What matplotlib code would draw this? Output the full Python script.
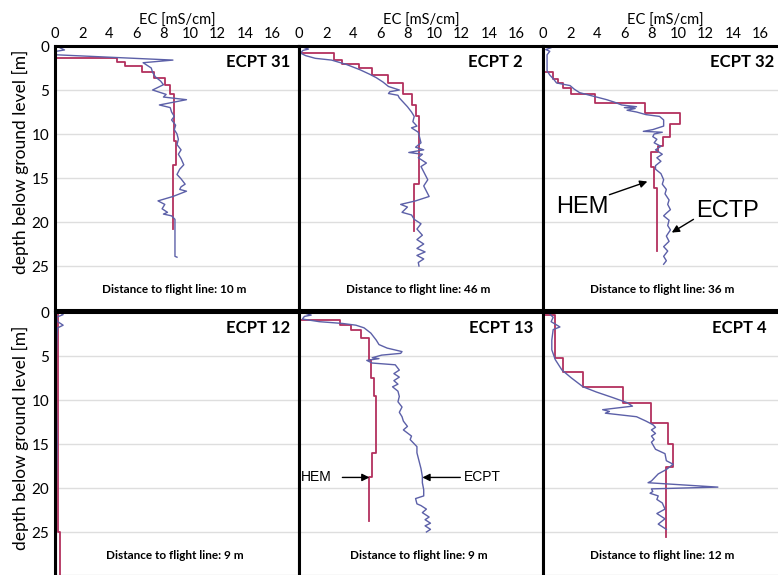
import matplotlib
matplotlib.use('Agg')
import matplotlib.pyplot as plt
import numpy as np

plt.rcParams['font.family'] = ['Lato', 'DejaVu Sans']

# ---- data (EC in mS/cm, depth in m) ----
# HEM layer models: layer tops, EC per layer, bottom of last layer
hem31_top = [0, 1.4, 1.8, 2.3, 2.9, 3.6, 4.4, 5.5, 10.8, 13.5]
hem31_ec = [0.1, 4.6, 5.2, 6.4, 7.3, 8.1, 8.5, 8.8, 8.9, 8.7]
hem31_bot = 20.8

hem2_top = [0, 0.8, 1.6, 2.0, 2.5, 3.3, 4.2, 5.5, 6.7, 8.0, 15.7]
hem2_ec = [0.1, 2.6, 3.2, 4.4, 5.4, 6.6, 7.7, 8.3, 8.6, 8.85, 8.5]
hem2_bot = 21.0

hem32_top = [0, 2.9, 3.8, 4.2, 4.8, 5.5, 6.5, 7.6, 8.9, 10.3, 11.4, 12.1, 13.8, 16.1]
hem32_ec = [0.1, 0.75, 1.1, 1.5, 2.1, 3.8, 7.5, 10.1, 9.4, 8.85, 8.5, 8.0, 8.2, 8.4]
hem32_bot = 23.3

hem12_top = [0, 25.0]
hem12_ec = [0.2, 0.35]
hem12_bot = 31

hem13_top = [0, 0.9, 1.5, 2.0, 2.9, 5.4, 7.5, 9.6, 16.0, 18.7]
hem13_ec = [0.1, 3.0, 3.8, 4.6, 5.2, 5.3, 5.5, 5.7, 5.4, 5.2]
hem13_bot = 23.8

hem4_top = [0, 0.35, 5.2, 6.8, 8.5, 10.3, 12.6, 15.0, 17.6]
hem4_ec = [0.1, 0.9, 1.5, 2.95, 5.9, 8.0, 9.2, 9.6, 9.1]
hem4_bot = 25.6

# ECPT soundings (depth, EC)
ecpt31_d = [0, 0.45, 0.6, 1.0, 1.6, 1.9, 2.5, 3.0, 3.5, 4.0, 4.4, 5.0, 5.5, 5.8, 6.1, 6.7, 7.0,
            7.5, 8.0, 8.4, 9.0, 9.5, 10.0, 10.6, 11.2, 11.8, 12.3, 12.8, 13.5, 14.0, 14.6, 15.1,
            15.7, 16.0, 16.3, 16.5, 17.1, 17.6, 18.0, 18.5, 18.9, 19.1, 19.3, 19.7, 23.9, 24.0]
ecpt31_ec = [0.1, 0.7, 0.1, 0.1, 8.7, 6.5, 7.1, 7.2, 7.4, 7.8, 8.0, 7.2, 8.2, 8.0, 9.7, 7.7, 8.5,
             8.6, 8.8, 8.6, 8.9, 8.8, 9.0, 9.1, 9.0, 9.3, 9.1, 9.3, 9.5, 9.2, 9.0, 9.3,
             9.6, 9.3, 9.2, 9.7, 8.7, 7.6, 8.1, 7.9, 8.3, 8.0, 8.6, 8.85, 8.85, 9.0]

ecpt2_d = [0, 0.35, 0.5, 0.8, 1.1, 1.4, 1.6, 2.1, 2.7, 3.2, 3.6, 4.1, 4.6, 5.0, 5.2, 5.4, 5.6,
           5.9, 6.4, 6.9, 7.5, 8.0, 8.6, 9.1, 9.3, 9.8, 10.4, 11.0, 11.5, 11.8, 12.1, 12.3, 12.7,
           13.3, 13.7, 14.0, 14.6, 15.2, 15.9, 16.5, 17.1, 17.6, 18.0, 18.3, 18.9, 19.2, 19.7,
           20.2, 20.8, 21.5, 22.0, 22.5, 23.0, 23.4, 23.8, 24.2, 24.6, 25.0]
ecpt2_ec = [0.05, 0.7, 0.3, 0.1, 0.5, 1.2, 2.4, 3.5, 4.5, 5.2, 5.7, 6.2, 6.6, 7.4, 6.7, 6.6, 7.3,
            7.4, 7.7, 8.0, 8.3, 8.5, 8.4, 8.7, 8.3, 8.8, 8.9, 9.0, 8.6, 9.2, 8.1, 9.1, 8.8,
            9.4, 9.0, 9.1, 9.3, 9.5, 9.2, 9.4, 9.6, 8.6, 7.5, 8.0, 7.6, 8.3, 8.5,
            9.0, 8.7, 9.1, 8.7, 9.2, 8.7, 9.3, 8.7, 9.2, 8.8, 8.85]

ecpt32_d = [0, 0.2, 0.4, 0.6, 1.0, 2.0, 2.8, 3.3, 3.8, 4.2, 4.5, 4.9, 5.3, 5.7, 6.1, 6.4, 6.7,
            6.9, 7.0, 7.1, 7.3, 7.5, 7.8, 8.0, 8.4, 9.1, 9.5, 9.7, 9.8, 10.0, 10.3, 10.6, 11.0,
            11.4, 11.8, 12.0, 12.3, 12.7, 13.1, 13.6, 14.0, 14.5, 15.2, 15.7, 16.3, 16.8, 17.5,
            18.0, 18.6, 19.0, 19.3, 19.8, 20.4, 20.9, 21.6, 22.2, 22.8, 23.3, 23.9, 24.4, 24.8]
ecpt32_ec = [0.15, 0.6, 0.2, 0.5, 0.3, 0.3, 0.3, 0.5, 0.8, 1.0, 2.0, 2.3, 2.7, 3.7, 4.7, 5.3, 5.8,
             6.9, 6.0, 6.8, 6.2, 6.9, 7.6, 8.6, 8.9, 8.9, 8.1, 7.4, 8.8, 8.2, 8.1, 8.4, 8.2,
             8.7, 8.3, 8.5, 8.8, 8.4, 8.7, 8.3, 8.3, 8.7, 8.9, 8.8, 9.1, 9.0, 9.3,
             9.2, 9.4, 9.1, 8.9, 9.3, 9.2, 9.4, 9.1, 9.3, 8.9, 9.2, 8.9, 9.1, 8.9]

ecpt12_d = [0, 0.3, 0.6, 1.1, 1.5, 1.8, 2.5, 5, 10, 15, 20, 25, 30]
ecpt12_ec = [0.3, 0.6, 0.1, 0.2, 0.6, 0.2, 0.15, 0.1, 0.1, 0.15, 0.1, 0.1, 0.1]

ecpt13_d = [0, 0.35, 0.5, 0.8, 1.1, 1.3, 1.5, 1.8, 2.4, 3.2, 3.7, 4.1, 4.5, 4.7, 4.9, 5.2, 5.3,
            5.5, 5.8, 6.0, 6.6, 7.0, 7.4, 7.8, 8.2, 8.5, 9.0, 9.6, 10.2, 10.8, 11.4, 11.9, 12.4,
            13.0, 13.4, 14.1, 14.5, 15.3, 16.0, 16.6, 17.2, 17.8, 18.7, 19.4, 20.2, 20.9, 21.2,
            21.8, 22.0, 22.4, 22.8, 23.3, 23.6, 24.0, 24.3, 24.7, 25.0]
ecpt13_ec = [0.15, 0.9, 0.4, 0.25, 1.5, 3.2, 4.2, 4.8, 5.3, 5.7, 5.9, 6.5, 7.6, 7.5, 6.1, 5.4, 5.9,
             5.0, 5.4, 7.1, 7.4, 7.0, 7.4, 7.0, 7.3, 6.9, 7.3, 7.4, 7.3, 7.6, 7.4, 7.6, 7.7,
             8.0, 7.7, 8.3, 8.2, 8.7, 8.7, 8.8, 8.9, 9.0, 9.1, 9.1, 9.2, 9.2, 8.6,
             8.7, 9.0, 9.4, 9.1, 9.6, 9.3, 9.7, 9.3, 9.7, 9.4]

ecpt4_d = [0, 0.1, 0.6, 1.1, 1.7, 2.0, 3.2, 4.3, 5.4, 6.6, 7.5, 8.5, 9.1, 9.7, 10.3, 10.7, 11.1,
           11.3, 11.5, 11.9, 12.4, 12.8, 13.1, 13.4, 13.8, 14.1, 14.5, 14.8, 15.6, 16.1, 16.9,
           17.3, 17.9, 18.4, 19.2, 19.4, 19.9, 20.1, 20.4, 20.6, 20.9, 21.3, 21.7, 22.4, 22.9,
           23.5, 24.1, 24.7]
ecpt4_ec = [0.0, 0.4, 0.75, 0.6, 1.25, 0.75, 0.65, 0.65, 0.9, 1.4, 2.1, 2.95, 3.95, 5.1, 6.2, 6.6, 4.4,
            4.9, 4.6, 6.9, 7.6, 8.1, 8.3, 8.0, 8.3, 8.0, 8.2, 8.0, 8.3, 9.0, 9.1,
            9.6, 9.1, 8.5, 8.0, 7.75, 12.9, 8.0, 8.1, 7.9, 8.5, 8.4, 8.8, 9.0, 8.4,
            9.0, 8.5, 9.1]

names = ['ECPT 31', 'ECPT 2', 'ECPT 32', 'ECPT 12', 'ECPT 13', 'ECPT 4']
distances = ['10 m', '46 m', '36 m', '9 m', '9 m', '12 m']
hem = [(hem31_top, hem31_ec, hem31_bot), (hem2_top, hem2_ec, hem2_bot),
       (hem32_top, hem32_ec, hem32_bot), (hem12_top, hem12_ec, hem12_bot),
       (hem13_top, hem13_ec, hem13_bot), (hem4_top, hem4_ec, hem4_bot)]
ecpt = [(ecpt31_d, ecpt31_ec), (ecpt2_d, ecpt2_ec), (ecpt32_d, ecpt32_ec),
        (ecpt12_d, ecpt12_ec), (ecpt13_d, ecpt13_ec), (ecpt4_d, ecpt4_ec)]

x_ticks = [0, 2, 4, 6, 8, 10, 12, 14, 16]
y_ticks = [0, 5, 10, 15, 20, 25]

RED = '#b3305e'
BLUE = '#5c60a8'

W, H = 778, 575
fig = plt.figure(figsize=(W / 100, H / 100), dpi=100)

col_left = [55, 299, 543]
row_top = [46, 312]
aw, ah = 244, 264
# right edge of panel name, as a fraction of the panel width
name_x = [0.963, 0.918, 0.948, 0.963, 0.958, 0.918]

axes = []
for k in range(6):
    r, c = divmod(k, 3)
    ax = fig.add_axes([col_left[c] / W, 1 - (row_top[r] + ah) / H, aw / W, ah / H])
    axes.append(ax)

    tops, vals, bot = hem[k]
    bounds = list(tops[1:]) + [bot]
    yy = np.ravel(np.column_stack([tops, bounds]))
    xx = np.repeat(vals, 2)
    ax.plot(xx, yy, color=RED, lw=1.3, zorder=3)
    d, e = ecpt[k]
    ax.plot(e, d, color=BLUE, lw=1.0, zorder=4)

    ax.set_xlim(0, 18)
    ax.set_ylim(30, 0)
    ax.set_xticks(x_ticks)
    ax.set_xticks([4, 8, 12, 16], minor=True)
    ax.set_yticks(y_ticks)
    ax.grid(which='minor', axis='x', color='#8e8e8e', lw=1.0, zorder=1)
    ax.grid(which='major', axis='y', color='#dedede', lw=1.0, zorder=1)
    ax.tick_params(which='both', length=0, labelsize=10.5)
    ax.tick_params(axis='x', pad=3.5)
    ax.tick_params(axis='y', labelsize=11, pad=4)
    for s in ax.spines.values():
        s.set_linewidth(2.2)
        s.set_color('black')
        s.set_zorder(6)

    if r == 0:
        ax.xaxis.tick_top()
        ax.xaxis.set_label_position('top')
        ax.set_xlabel('EC [mS/cm]', fontsize=10.5, labelpad=1.5)
    else:
        ax.set_xticklabels([])
    if c != 0:
        ax.set_yticklabels([])

    ax.text(name_x[k], 0.94, names[k], transform=ax.transAxes, ha='right', va='center',
            fontsize=12, fontweight='bold', zorder=7,
            bbox=dict(facecolor='white', edgecolor='none', pad=1.5))
    ax.text(0.49, 0.078, 'Distance to flight line: ' + distances[k], transform=ax.transAxes,
            ha='center', va='center', fontsize=8.5, fontweight='bold', zorder=7)

for yc in [162, 438]:
    fig.text(20 / W, 1 - yc / H, 'depth below ground level [m]', rotation=90,
             ha='center', va='center', fontsize=12.5)

# annotations
arrow = dict(arrowstyle='-|>', color='black', lw=1.0, mutation_scale=11, shrinkA=0, shrinkB=0)
ax = axes[2]
ax.text(2.9, 18.3, 'HEM', family=['Liberation Sans'], fontsize=17, ha='center', va='center')
ax.annotate('', xy=(7.7, 15.4), xytext=(4.9, 16.9), arrowprops=arrow)
ax.text(13.6, 18.8, 'ECTP', family=['Liberation Sans'], fontsize=17, ha='center', va='center')
ax.annotate('', xy=(9.5, 21.2), xytext=(11.1, 19.7), arrowprops=arrow)

ax = axes[4]
ax.text(1.3, 18.8, 'HEM', family=['Liberation Sans'], fontsize=10, ha='center', va='center')
ax.annotate('', xy=(5.2, 18.8), xytext=(3.2, 18.8), arrowprops=arrow)
ax.text(13.5, 18.8, 'ECPT', family=['Liberation Sans'], fontsize=10, ha='center', va='center')
ax.annotate('', xy=(9.1, 18.8), xytext=(11.9, 18.8), arrowprops=arrow)

fig.savefig('out.png', dpi=100)
